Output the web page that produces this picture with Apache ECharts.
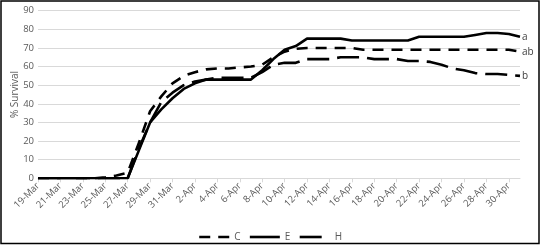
<!DOCTYPE html>
<html>
<head>
<meta charset="utf-8">
<script src="https://cdn.jsdelivr.net/npm/echarts@6/dist/echarts.min.js"></script>
<style>html,body{margin:0;padding:0;background:#fff}#c{width:540px;height:245px}</style>
</head>
<body>
<div id="c"></div>
<script>
var categories = ["19-Mar","20-Mar","21-Mar","22-Mar","23-Mar","24-Mar","25-Mar","26-Mar","27-Mar","28-Mar","29-Mar","30-Mar","31-Mar",
"1-Apr","2-Apr","3-Apr","4-Apr","5-Apr","6-Apr","7-Apr","8-Apr","9-Apr","10-Apr","11-Apr","12-Apr","13-Apr","14-Apr","15-Apr","16-Apr","17-Apr","18-Apr","19-Apr","20-Apr","21-Apr","22-Apr","23-Apr","24-Apr","25-Apr","26-Apr","27-Apr","28-Apr","29-Apr","30-Apr","1-May"];
var seriesNames = ["C","E","H"];
var valuesC = [0,0,0,0,0,0,0.5,1.5,3,19,36,44,51,55,57,58.5,59,59,59.5,60,61,65,68,69.5,70,70,70,70,70,69,69,69,69,69,69,69,69,69,69,69,69,69,69,68];
var valuesE = [0,0,0,0,0,0,0,0,0,15,30,37,43,48,51,53,53,53,53,53,58,64,69,71,75,75,75,75,74,74,74,74,74,74,76,76,76,76,76,77,78,78,77.5,76];
var valuesH = [0,0,0,0,0,0,0,0,0,16,30,41,46,50,52,53,54,54,54,54,57,61,62,62,64,64,64,65,65,65,64,64,64,63,63,62.5,61,59,58,56.5,56,56,55.5,55];
var endLabels = ["ab","a","b"];
var yTicks = [0,10,20,30,40,50,60,70,80,90];

var font = "'Open Sans', 'Liberation Sans', sans-serif";
var grey = "#595959";
var dashes = [[11, 8], 'solid', [22, 8]];
function mk(i, data) {
  return {
    name: seriesNames[i], type: 'line', data: data, symbol: 'none', showSymbol: false, smooth: false,
    lineStyle: {color: '#000', width: 2.6, type: dashes[i], cap: 'butt', join: 'round'},
    itemStyle: {color: '#000'},
    endLabel: {show: true, formatter: endLabels[i], color: '#404040', fontSize: 10, fontFamily: font, distance: 2},
    emphasis: {disabled: true}, animation: false
  };
}
var chart = echarts.init(document.getElementById('c'), null, {renderer: 'canvas'});
chart.setOption({
  animation: false,
  backgroundColor: '#fff',
  grid: {left: 38, right: 20, top: 10.7, bottom: 66.7, outerBoundsMode: 'none', containLabel: false},
  xAxis: {
    type: 'category', data: categories, boundaryGap: false,
    axisLine: {lineStyle: {color: '#d9d9d9', width: 1}},
    axisTick: {show: true, interval: 1, length: 4, lineStyle: {color: '#d9d9d9'}},
    axisLabel: {interval: 1, rotate: 45, fontSize: 9.5, color: grey, fontFamily: font, margin: 6},
    splitLine: {show: false}
  },
  yAxis: {
    type: 'value', min: yTicks[0], max: yTicks[yTicks.length-1], interval: 10,
    name: '% Survival', nameLocation: 'middle', nameGap: 18, nameMoveOverlap: false,
    nameTextStyle: {color: grey, fontSize: 10, fontFamily: font},
    axisLine: {show: false}, axisTick: {show: false},
    axisLabel: {fontSize: 9.5, color: grey, fontFamily: font, margin: 4},
    splitLine: {lineStyle: {color: '#d9d9d9', width: 1}}
  },
  legend: {
    data: seriesNames.map(function (n, i) {
      return {name: n, itemStyle: {opacity: 0},
        lineStyle: {color: '#000', width: 2.6, type: dashes[i], cap: 'butt'}};
    }),
    itemStyle: {opacity: 0},
    top: 227, left: 'center', itemWidth: 30, itemHeight: 10, itemGap: 8,
    textStyle: {color: grey, fontSize: 10, fontFamily: font}
  },
  graphic: [{type: 'rect', shape: {x: 1, y: 1, width: 538, height: 242.5},
    style: {fill: 'none', stroke: '#000', lineWidth: 1.5}, silent: true}],
  series: [mk(0, valuesC), mk(1, valuesE), mk(2, valuesH)]
});
</script>
</body>
</html>
